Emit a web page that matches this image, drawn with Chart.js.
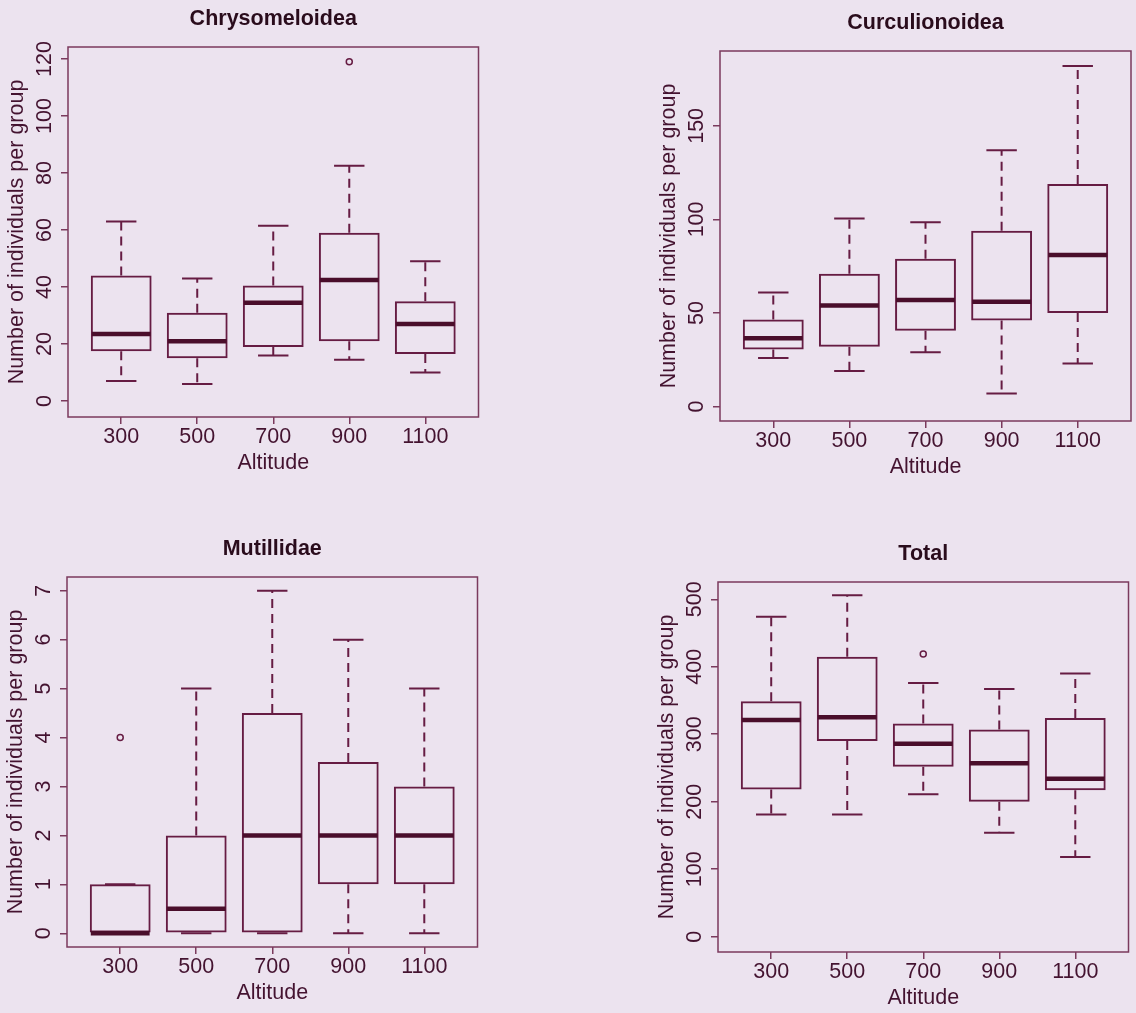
<!DOCTYPE html>
<html>
<head>
<meta charset="utf-8">
<title>Individuals per group by altitude</title>
<script src="https://cdn.jsdelivr.net/npm/chart.js@4.4.1/dist/chart.umd.min.js"></script>
<style>
	html, body { margin: 0; padding: 0; background: #ece3ef; overflow: hidden; }
	body { width: 1136px; height: 1013px; position: relative; }
	canvas { position: absolute; }
</style>
</head>
<body>
<canvas id="chrysoChart" width="484" height="476" style="left:0px;top:0px"></canvas>
<canvas id="curcuChart" width="484" height="476" style="left:652px;top:4px"></canvas>
<canvas id="mutilChart" width="484" height="476" style="left:-1px;top:530px"></canvas>
<canvas id="totalChart" width="484" height="476" style="left:650px;top:535px"></canvas>
<script>
// altitude groups (x axis)
const altitudes = ['300', '500', '700', '900', '1100'];

// Chrysomeloidea
const chrysoLow = [7, 6, 16, 14.5, 10];
const chrysoQ1 = [17.5, 15, 19, 21, 16.5];
const chrysoMed = [23.5, 21, 34.5, 42.5, 27];
const chrysoQ3 = [44, 31, 40.5, 59, 35];
const chrysoHigh = [63, 43, 61.5, 82.5, 49];
const chrysoOut = [null, null, null, 119, null];
const chrysoTicks = [0, 20, 40, 60, 80, 100, 120];

// Curculionoidea
const curcuLow = [26, 19, 29, 7, 23];
const curcuQ1 = [30.5, 32, 40.5, 46, 50];
const curcuMed = [36.5, 54, 57, 56, 81];
const curcuQ3 = [46.5, 71, 79, 94, 119];
const curcuHigh = [61, 100.5, 98.5, 137, 182];
const curcuOut = [null, null, null, null, null];
const curcuTicks = [0, 50, 100, 150];

// Mutillidae
const mutilLow = [0, 0, 0, 0, 0];
const mutilQ1 = [0, 0, 0, 1, 1];
const mutilMed = [0, 0.5, 2, 2, 2];
const mutilQ3 = [1, 2, 4.5, 3.5, 3];
const mutilHigh = [1, 5, 7, 6, 5];
const mutilOut = [4, null, null, null, null];
const mutilTicks = [0, 1, 2, 3, 4, 5, 6, 7];

// Total
const totalLow = [181, 181, 211, 154, 118];
const totalQ1 = [218, 290, 252, 200, 217];
const totalMed = [321, 325, 286, 257, 234];
const totalQ3 = [349, 415, 316, 307, 324];
const totalHigh = [474, 506, 376, 367, 390];
const totalOut = [null, null, 419, null, null];
const totalTicks = [0, 100, 200, 300, 400, 500];

const lineColor = '#661c43';
const medianColor = '#4a0e2b';
const frameColor = '#7b3a5d';
const textColor = '#441330';
const titleColor = '#2a0c1c';
const fontSize = 21.5;

Chart.defaults.font.family = '"Liberation Sans", Arial, sans-serif';
Chart.defaults.color = textColor;

// whiskers, staples, medians, frame and rotated y labels
const boxWhiskers = {
	id: 'boxWhiskers',
	afterDatasetsDraw(chart) {
		let o = chart.options.plugins.boxWhiskers;
		let ctx = chart.ctx;
		let xs = chart.scales.x;
		let ys = chart.scales.y;
		ctx.save();
		ctx.strokeStyle = lineColor;
		ctx.lineWidth = 2;
		o.med.forEach((m, i) => {
			let px = xs.getPixelForValue(i + 1);
			let half = xs.getPixelForValue(i + 1.4) - px;
			let cap = half / 2;
			// dashed whiskers
			ctx.setLineDash([9, 6]);
			ctx.beginPath();
			ctx.moveTo(px, ys.getPixelForValue(o.q3[i]));
			ctx.lineTo(px, ys.getPixelForValue(o.high[i]));
			ctx.moveTo(px, ys.getPixelForValue(o.q1[i]));
			ctx.lineTo(px, ys.getPixelForValue(o.low[i]));
			ctx.stroke();
			// staples
			ctx.setLineDash([]);
			ctx.beginPath();
			ctx.moveTo(px - cap, ys.getPixelForValue(o.high[i]));
			ctx.lineTo(px + cap, ys.getPixelForValue(o.high[i]));
			ctx.moveTo(px - cap, ys.getPixelForValue(o.low[i]));
			ctx.lineTo(px + cap, ys.getPixelForValue(o.low[i]));
			ctx.stroke();
			// median
			ctx.save();
			ctx.strokeStyle = medianColor;
			ctx.lineWidth = 4.5;
			ctx.beginPath();
			ctx.moveTo(px - half + 1, ys.getPixelForValue(m));
			ctx.lineTo(px + half - 1, ys.getPixelForValue(m));
			ctx.stroke();
			ctx.restore();
		});
		ctx.restore();
	},
	afterDraw(chart) {
		let ctx = chart.ctx;
		let area = chart.chartArea;
		let ys = chart.scales.y;
		ctx.save();
		ctx.strokeStyle = frameColor;
		ctx.lineWidth = 1.5;
		ctx.strokeRect(area.left, area.top, area.right - area.left, area.bottom - area.top);
		ctx.fillStyle = textColor;
		ctx.font = fontSize + 'px "Liberation Sans", Arial, sans-serif';
		ctx.textAlign = 'center';
		ctx.textBaseline = 'middle';
		ys.ticks.forEach(t => {
			ctx.save();
			ctx.translate(area.left - 23, ys.getPixelForValue(t.value));
			ctx.rotate(-Math.PI / 2);
			ctx.fillText(t.label, 0, 0);
			ctx.restore();
		});
		ctx.restore();
	}
};

function makeBoxplot(id, title, low, q1, med, q3, high, out, yTicks, yMin, yMax) {
	let boxes = altitudes.map((a, i) => ({x: i + 1, y: [q1[i], q3[i]]}));
	let outliers = [];
	out.forEach((v, i) => {
		if (v !== null) outliers.push({x: i + 1, y: v});
	});
	let ctx = document.getElementById(id).getContext('2d');
	return new Chart(ctx, {
		type: 'bar',
		data: {
			datasets: [{
				data: boxes,
				backgroundColor: 'rgba(0,0,0,0)',
				borderColor: lineColor,
				borderWidth: 2,
				borderSkipped: false,
				categoryPercentage: 1,
				barPercentage: 0.8
			}, {
				type: 'line',
				data: outliers,
				showLine: false,
				pointStyle: 'circle',
				pointRadius: 3,
				pointBorderWidth: 1.5,
				pointBackgroundColor: 'rgba(0,0,0,0)',
				pointBorderColor: lineColor
			}]
		},
		options: {
			responsive: false,
			animation: false,
			events: [],
			layout: {padding: {left: 0, right: 5, top: 0, bottom: 0}},
			plugins: {
				legend: {display: false},
				tooltip: {enabled: false},
				title: {
					display: true,
					text: title,
					fullSize: false,
					color: titleColor,
					font: {size: fontSize, weight: 'bold', lineHeight: 1.2},
					padding: {top: 6.1, bottom: 15.1}
				},
				boxWhiskers: {low: low, q1: q1, med: med, q3: q3, high: high}
			},
			scales: {
				x: {
					type: 'linear',
					min: 0.3,
					max: 5.7,
					offset: false,
					afterBuildTicks: s => { s.ticks = altitudes.map((a, i) => ({value: i + 1})); },
					afterFit: s => { s.height = 59; },
					ticks: {
						callback: v => altitudes[v - 1],
						font: {size: fontSize},
						color: textColor,
						padding: 0,
						maxRotation: 0
					},
					grid: {offset: false, drawOnChartArea: false, drawTicks: true, tickLength: 7, tickColor: frameColor, lineWidth: 1.5},
					border: {display: false},
					title: {display: true, text: 'Altitude', font: {size: fontSize}, color: textColor, padding: {top: 0, bottom: 0.1}}
				},
				y: {
					min: yMin,
					max: yMax,
					afterBuildTicks: s => { s.ticks = yTicks.map(v => ({value: v})); },
					afterFit: s => { s.width = 68; },
					ticks: {display: false},
					grid: {drawOnChartArea: false, drawTicks: true, tickLength: 7, tickColor: frameColor, lineWidth: 1.5},
					border: {display: false},
					title: {display: true, text: 'Number of individuals per group', font: {size: fontSize}, color: textColor, padding: {top: 4.1, bottom: 0}}
				}
			}
		},
		plugins: [boxWhiskers]
	});
}

makeBoxplot('chrysoChart', 'Chrysomeloidea', chrysoLow, chrysoQ1, chrysoMed, chrysoQ3, chrysoHigh, chrysoOut, chrysoTicks, -5.6, 124.2);
makeBoxplot('curcuChart', 'Curculionoidea', curcuLow, curcuQ1, curcuMed, curcuQ3, curcuHigh, curcuOut, curcuTicks, -7.7, 190);
makeBoxplot('mutilChart', 'Mutillidae', mutilLow, mutilQ1, mutilMed, mutilQ3, mutilHigh, mutilOut, mutilTicks, -0.28, 7.28);
makeBoxplot('totalChart', 'Total', totalLow, totalQ1, totalMed, totalQ3, totalHigh, totalOut, totalTicks, -22.7, 525.6);
</script>
</body>
</html>
